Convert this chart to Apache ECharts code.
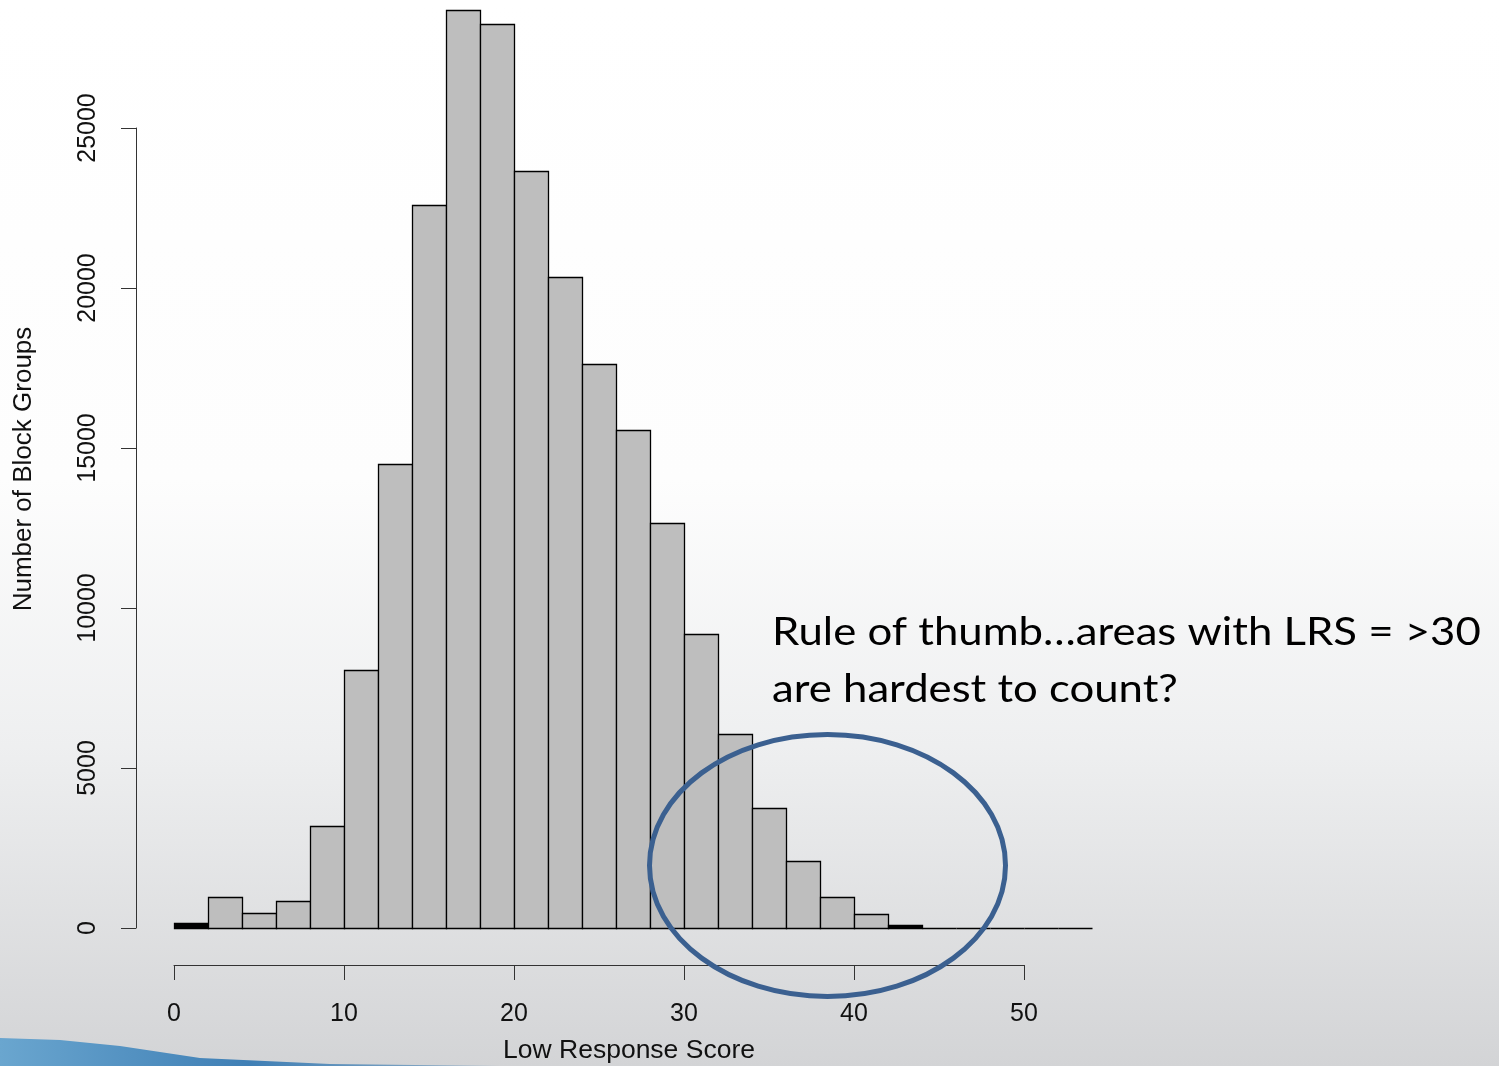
<!DOCTYPE html>
<html>
<head>
<meta charset="utf-8">
<script src="https://cdn.jsdelivr.net/npm/echarts@6/dist/echarts.min.js"></script>
<style>html,body{margin:0;padding:0;}#c{width:1499px;height:1066px;}</style>
</head>
<body>
<div id="c"></div>
<script>
// Histogram bins (Low Response Score), width 2
const binStarts = [0,2,4,6,8,10,12,14,16,18,20,22,24,26,28,30,32,34,36,38,40,42,44,46,48,50,52];
const binWidth = 2;
const counts = [150,970,470,840,3190,8060,14500,22600,28690,28250,23660,20340,17630,15560,12660,9180,6060,3750,2090,970,440,100,8,4,2,1,1];
const xTicks = [0,10,20,30,40,50];
const yTicks = [0,5000,10000,15000,20000,25000];
const xTitle = 'Low Response Score';
const yTitle = 'Number of Block Groups';
const noteLines = ['Rule of thumb\u2026areas with LRS = >30', 'are hardest to count?'];

const data = binStarts.map((s, i) => [s, s + binWidth, counts[i]]);
const chart = echarts.init(document.getElementById('c'));
const font = 'Liberation Sans, Arial, sans-serif';
chart.setOption({
  animation: false,
  backgroundColor: {
    type: 'linear', x: 0, y: 0, x2: 0, y2: 1,
    colorStops: [
      {offset: 0, color: '#ffffff'},
      {offset: 0.45, color: '#fdfdfd'},
      {offset: 0.7, color: '#eeeff0'},
      {offset: 1, color: '#d3d4d6'}
    ]
  },
  grid: {left: 174, right: 475, top: 128, bottom: 138},
  xAxis: {
    type: 'value', min: xTicks[0], max: xTicks[xTicks.length - 1], interval: 10,
    offset: 37,
    splitLine: {show: false},
    axisLine: {show: true, onZero: false, lineStyle: {color: '#333', width: 1}},
    axisTick: {show: true, length: 15, lineStyle: {color: '#333'}},
    axisLabel: {fontSize: 25, color: '#111', fontFamily: font, margin: 37,
      formatter: v => String(v)}
  },
  yAxis: {
    type: 'value', min: yTicks[0], max: yTicks[yTicks.length - 1], interval: 5000,
    offset: 38,
    splitLine: {show: false},
    axisLine: {show: true, onZero: false, lineStyle: {color: '#333', width: 1}},
    axisTick: {show: true, length: 15, lineStyle: {color: '#333'}},
    axisLabel: {fontSize: 25, color: '#111', fontFamily: font, rotate: 90, margin: 35,
      formatter: v => String(v)}
  },
  series: [{
    type: 'custom',
    clip: false,
    data: data,
    encode: {x: [0, 1], y: 2},
    renderItem: function (params, api) {
      const p0 = api.coord([api.value(0), api.value(2)]);
      const p1 = api.coord([api.value(1), 0]);
      const h = Math.round(p1[1]) - Math.round(p0[1]);
      return {
        type: 'rect',
        shape: {x: Math.round(p0[0]) + 0.5, y: Math.round(p0[1]) + 0.5,
                width: Math.round(p1[0]) - Math.round(p0[0]), height: h},
        style: {fill: h < 6 ? '#000' : '#bebebe', stroke: '#000', lineWidth: 1.3}
      };
    }
  }],
  graphic: [
    {type: 'text', x: 24, y: 469, rotation: Math.PI / 2,
     style: {text: yTitle, fontSize: 26, fontFamily: font, fill: '#111', align: 'center', verticalAlign: 'middle'}},
    {type: 'text', x: 629, y: 1051,
     style: {text: xTitle, fontSize: 26.5, fontFamily: font, fill: '#111', align: 'center', verticalAlign: 'middle'}},
    {type: 'text', x: 772, y: 633, scaleX: 1.15, z: 100,
     style: {text: noteLines[0], fontSize: 38, fontFamily: 'Lato, sans-serif', fill: '#000', align: 'left', verticalAlign: 'middle'}},
    {type: 'text', x: 772, y: 690, scaleX: 1.15, z: 100,
     style: {text: noteLines[1], fontSize: 38, fontFamily: 'Lato, sans-serif', fill: '#000', align: 'left', verticalAlign: 'middle'}},
    {type: 'ellipse', z: 100, shape: {cx: 827.5, cy: 865.5, rx: 178, ry: 131},
     style: {fill: 'none', stroke: '#3b6090', lineWidth: 5}},
    {type: 'polygon', z: -1,
     shape: {points: [[0, 1066], [0, 1038], [60, 1040], [120, 1046], [200, 1058], [330, 1064], [500, 1066]]},
     style: {fill: {type: 'linear', x: 0, y: 0, x2: 1, y2: 0,
       colorStops: [{offset: 0, color: '#6aa6cf'}, {offset: 0.5, color: '#3f7fb5'}, {offset: 1, color: '#9ab3c8'}]}}}
  ]
});
</script>
</body>
</html>
